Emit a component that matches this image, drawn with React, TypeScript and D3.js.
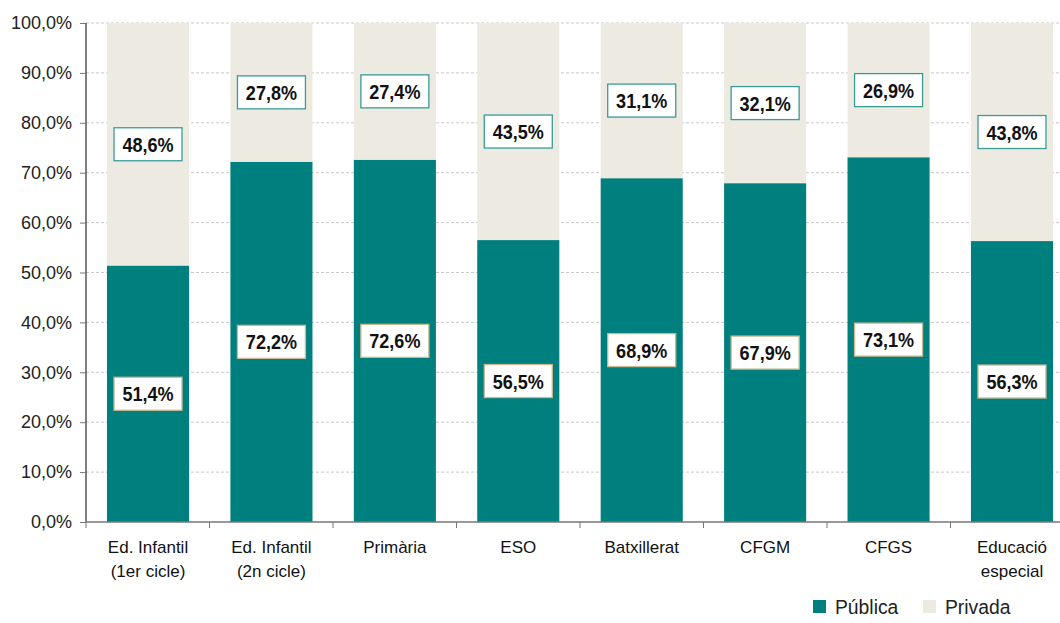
import { useEffect, useRef } from 'react';
import * as d3 from 'd3';

const categories = [
  ['Ed. Infantil', '(1er cicle)'],
  ['Ed. Infantil', '(2n cicle)'],
  ['Primària'],
  ['ESO'],
  ['Batxillerat'],
  ['CFGM'],
  ['CFGS'],
  ['Educació', 'especial'],
];
const publica = [51.4, 72.2, 72.6, 56.5, 68.9, 67.9, 73.1, 56.3];
const privada = [48.6, 27.8, 27.4, 43.5, 31.1, 32.1, 26.9, 43.8];
const yTicks = [0, 10, 20, 30, 40, 50, 60, 70, 80, 90, 100];
const seriesNames = ['Pública', 'Privada'];

const TEAL = '#007f7f';
const BEIGE = '#edebe1';
const FONT = '"Liberation Sans", Arial, sans-serif';

const fmt = (v: number) => v.toFixed(1).replace('.', ',') + '%';

export default function App() {
  const svgRef = useRef<SVGSVGElement>(null);

  useEffect(() => {
    const W = 1060;
    const H = 623;
    const margin = { top: 23, left: 86, bottom: 101 };
    const plotH = H - margin.top - margin.bottom;
    const bandW = 123.5;

    const root = d3.select(svgRef.current).attr('width', W).attr('height', H);
    root.selectAll('*').remove();
    const g = root.append('g').attr('transform', `translate(${margin.left},${margin.top})`);

    const keys = categories.map((_, i) => String(i));
    const x = d3
      .scaleBand()
      .domain(keys)
      .range([0, bandW * keys.length])
      .paddingInner(0.335)
      .paddingOuter(0.17);
    const y = d3.scaleLinear().domain([0, 100]).range([plotH, 0]);

    // gridlines
    g.selectAll('.grid')
      .data(yTicks.slice(1))
      .enter()
      .append('line')
      .attr('x1', 0)
      .attr('x2', bandW * keys.length)
      .attr('y1', d => y(d))
      .attr('y2', d => y(d))
      .attr('stroke', '#c8c8c8')
      .attr('stroke-dasharray', '3,2')
      .attr('stroke-width', 1);

    // bars
    keys.forEach((k, i) => {
      g.append('rect')
        .attr('x', x(k)!)
        .attr('width', x.bandwidth())
        .attr('y', y(publica[i]))
        .attr('height', plotH - y(publica[i]))
        .attr('fill', TEAL);
      g.append('rect')
        .attr('x', x(k)!)
        .attr('width', x.bandwidth())
        .attr('y', y(100))
        .attr('height', y(publica[i]) - y(100))
        .attr('fill', BEIGE);
    });

    // y axis
    const yAxis = g.append('g').call(
      d3
        .axisLeft(y)
        .tickValues(yTicks)
        .tickSize(6)
        .tickFormat(d => fmt(d as number)),
    );
    yAxis.select('.domain').attr('stroke', '#000').attr('d', `M0,0V${plotH}`);
    yAxis.selectAll('.tick line').attr('stroke', '#777');
    yAxis
      .selectAll('.tick text')
      .attr('font-family', FONT)
      .attr('font-size', 18)
      .attr('fill', '#222')
      .attr('x', -14);

    // x axis
    const xa = g.append('g').attr('transform', `translate(0,${plotH})`);
    xa.append('line')
      .attr('x1', 0)
      .attr('x2', bandW * keys.length)
      .attr('stroke', '#777')
      .attr('stroke-width', 1.5);
    d3.range(keys.length + 1).forEach(i => {
      xa.append('line')
        .attr('x1', i * bandW)
        .attr('x2', i * bandW)
        .attr('y1', 0)
        .attr('y2', 6)
        .attr('stroke', '#777');
    });
    categories.forEach((lines, i) => {
      const t = xa
        .append('text')
        .attr('x', x(keys[i])! + x.bandwidth() / 2)
        .attr('y', 31)
        .attr('text-anchor', 'middle')
        .attr('font-family', FONT)
        .attr('font-size', 17)
        .attr('fill', '#111');
      lines.forEach((ln, j) => {
        t.append('tspan')
          .attr('x', x(keys[i])! + x.bandwidth() / 2)
          .attr('dy', j === 0 ? 0 : 24)
          .text(ln);
      });
    });

    // value labels
    const label = (cx: number, cy: number, v: number, border: string) => {
      const bw = 68;
      const bh = 33;
      g.append('rect')
        .attr('x', cx - bw / 2)
        .attr('y', cy - bh / 2)
        .attr('width', bw)
        .attr('height', bh)
        .attr('fill', '#fff')
        .attr('stroke', border)
        .attr('stroke-width', 1.3);
      g.append('text')
        .attr('transform', `translate(${cx},${cy + 7.5}) scale(0.86,1)`)
        .attr('text-anchor', 'middle')
        .attr('font-family', FONT)
        .attr('font-weight', 'bold')
        .attr('font-size', 21)
        .attr('fill', '#111')
        .text(fmt(v));
    };
    keys.forEach((k, i) => {
      const cx = x(k)! + x.bandwidth() / 2;
      label(cx, (y(0) + y(publica[i])) / 2, publica[i], '#cbb88f');
      label(cx, (y(100) + y(publica[i])) / 2, privada[i], '#3a9b98');
    });

    // legend
    const legend = root.append('g').attr('transform', 'translate(813,606)');
    seriesNames.forEach((name, i) => {
      const lx = i * 110;
      legend
        .append('rect')
        .attr('x', lx)
        .attr('y', -6)
        .attr('width', 13)
        .attr('height', 13)
        .attr('fill', i === 0 ? TEAL : BEIGE);
      legend
        .append('text')
        .attr('transform', `translate(${lx + 22},8) scale(0.92,1)`)
        .attr('font-family', FONT)
        .attr('font-size', 21)
        .attr('fill', '#222')
        .text(name);
    });
  }, []);

  return <svg ref={svgRef} style={{ position: 'absolute', left: 0, top: 0, overflow: 'hidden' }} />;
}
